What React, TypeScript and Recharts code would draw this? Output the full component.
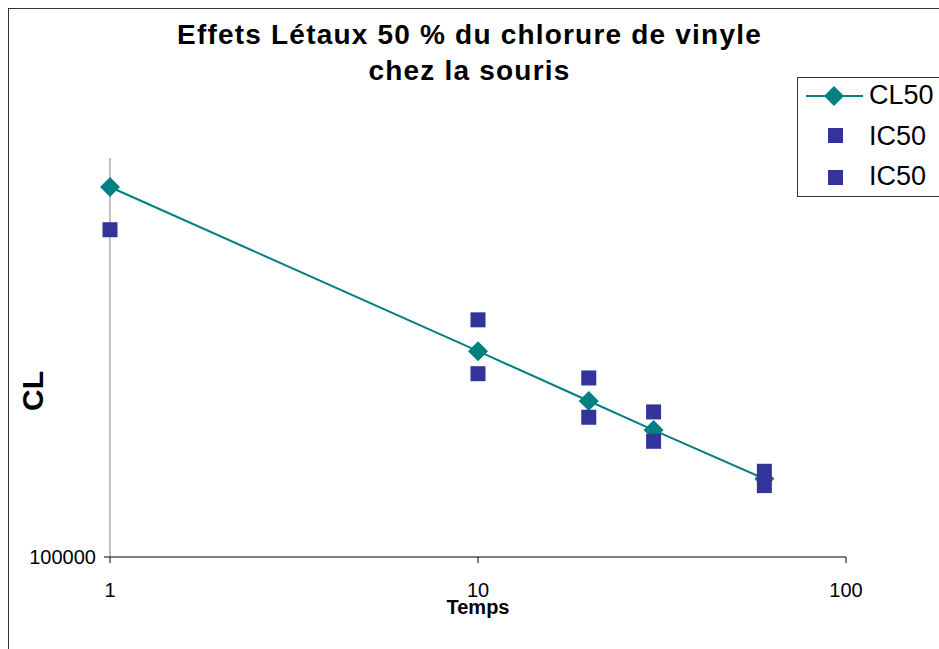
import React from "react";
import { ScatterChart, Scatter, XAxis, YAxis, Label } from "recharts";

const tempsTicks = [1, 10, 100];
const clTicks = [100000];

const cl50 = [
  { t: 1, cl: 846000 },
  { t: 10, cl: 328000 },
  { t: 20, cl: 246000 },
  { t: 30, cl: 208000 },
  { t: 60, cl: 157000 },
];

const ic50a = [
  { t: 1, cl: 661000 },
  { t: 10, cl: 393000 },
  { t: 20, cl: 281000 },
  { t: 30, cl: 231000 },
  { t: 60, cl: 164000 },
];

const ic50b = [
  { t: 10, cl: 288000 },
  { t: 20, cl: 224000 },
  { t: 30, cl: 195000 },
  { t: 60, cl: 151000 },
];

const TEAL = "#008080";
const NAVY = "#333399";
const FONT = "'Liberation Sans', Arial, sans-serif";

const Diamond = (props: any) => {
  const { cx, cy } = props;
  const r = 10;
  return (
    <polygon
      points={`${cx},${cy - r} ${cx + r},${cy} ${cx},${cy + r} ${cx - r},${cy}`}
      fill={TEAL}
    />
  );
};

const Square = (props: any) => {
  const { cx, cy } = props;
  return <rect x={cx - 7.5} y={cy - 7.5} width={15} height={15} fill={NAVY} />;
};

// legend drawn by hand, like the original Excel box
const LegendBox = () => (
  <div
    style={{
      position: "absolute",
      left: 797,
      top: 77,
      border: "1px solid #333",
      background: "#fff",
      width: 160,
      height: 118,
      fontFamily: FONT,
      fontSize: 27,
      color: "#000",
    }}
  >
    <svg width={70} height={118} style={{ position: "absolute", left: 0, top: 0 }}>
      <line x1={8} y1={18} x2={65} y2={18} stroke={TEAL} strokeWidth={2} />
      <polygon points="36,8 46,18 36,28 26,18" fill={TEAL} />
      <rect x={30} y={50} width={15} height={15} fill={NAVY} />
      <rect x={30} y={92} width={15} height={15} fill={NAVY} />
    </svg>
    <div style={{ position: "absolute", left: 71, top: 2 }}>CL50</div>
    <div style={{ position: "absolute", left: 71, top: 43 }}>IC50</div>
    <div style={{ position: "absolute", left: 71, top: 83 }}>IC50</div>
  </div>
);

export default function App() {
  return (
    <div
      style={{
        position: "fixed",
        left: 0,
        top: 0,
        width: 939,
        height: 649,
        overflow: "hidden",
        background: "#fff",
      }}
    >
      <div
        style={{
          position: "absolute",
          left: 8,
          top: 8,
          width: 1000,
          height: 700,
          borderLeft: "1px solid #333",
          borderTop: "1px solid #333",
        }}
      />
      <div
        style={{
          position: "absolute",
          left: 0,
          top: 17,
          width: 939,
          textAlign: "center",
          fontFamily: FONT,
          fontWeight: "bold",
          fontSize: 28,
          letterSpacing: "1.2px",
          lineHeight: "36px",
          color: "#000",
        }}
      >
        Effets Létaux 50 % du chlorure de vinyle
        <br />
        chez la souris
      </div>
      <div style={{ position: "absolute", left: 0, top: 0 }}>
        <ScatterChart
          width={939}
          height={649}
          margin={{ top: 158, right: 93, bottom: 32, left: 50 }}
        >
          <XAxis
            type="number"
            dataKey="t"
            scale="log"
            domain={[1, 100]}
            ticks={tempsTicks}
            height={60}
            tickSize={6}
            tickMargin={20}
            stroke="#000"
            tick={{ fill: "#000", fontSize: 20, fontFamily: FONT }}
          >
            <Label
              value="Temps"
              position="insideBottom"
              offset={3}
              style={{ fontFamily: FONT, fontWeight: "bold", fontSize: 20, fill: "#000" }}
            />
          </XAxis>
          <YAxis
            type="number"
            dataKey="cl"
            scale="log"
            domain={[100000, 1000000]}
            ticks={clTicks}
            width={60}
            tickSize={6}
            tickMargin={8}
            stroke="#808080"
            tick={{ fill: "#000", fontSize: 20, fontFamily: FONT }}
            tickLine={{ stroke: "#000" }}
          />
          <Scatter
            name="CL50"
            data={cl50}
            line={{ stroke: TEAL, strokeWidth: 2 }}
            shape={<Diamond />}
            isAnimationActive={false}
          />
          <Scatter name="IC50" data={ic50a} shape={<Square />} isAnimationActive={false} />
          <Scatter name="IC50" data={ic50b} shape={<Square />} isAnimationActive={false} />
        </ScatterChart>
      </div>
      <svg
        width={60}
        height={649}
        style={{ position: "absolute", left: 0, top: 0, pointerEvents: "none" }}
      >
        <text
          x={43}
          y={391}
          transform="rotate(-90 43 391)"
          textAnchor="middle"
          fontFamily={FONT}
          fontWeight="bold"
          fontSize={30}
          fill="#000"
        >
          CL
        </text>
      </svg>
      <LegendBox />
    </div>
  );
}
